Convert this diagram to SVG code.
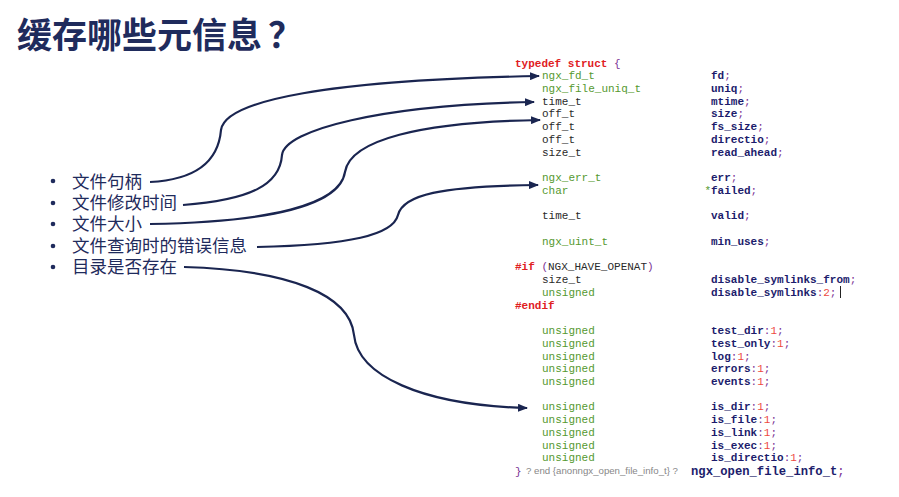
<svg xmlns="http://www.w3.org/2000/svg" width="899" height="497" viewBox="0 0 899 497">
<style>
.title{font-family:"Noto Sans CJK SC","Noto Sans",sans-serif;font-weight:700;font-size:35px;fill:#1f2b5c}
.b{font-family:"Noto Sans CJK SC","Noto Sans",sans-serif;font-size:17.5px;fill:#1f2b5c}
.dot{fill:#1f2b5c}
.c{font-family:"Liberation Mono",monospace;font-size:11px;white-space:pre}
.kw{fill:#e0201f;font-weight:700}
.ty{fill:#55992f}
.pl{fill:#2a2a2a}
.nm{fill:#1c1c6c;font-weight:700}
.pu{fill:#7b3294}
.nu{fill:#ee4a3f}
.gr{font-family:"Liberation Sans",sans-serif;font-size:9px;fill:#888}
.big{font-family:"Liberation Mono",monospace;font-size:12.2px;font-weight:700;fill:#1c1c6c}
.conn{fill:none;stroke:#1a2550;stroke-width:2.2;marker-end:url(#ah)}
</style>
<defs>
<marker id="ah" markerUnits="userSpaceOnUse" markerWidth="10" markerHeight="8" refX="9" refY="4" orient="auto">
<path d="M0,0 L10,4 L0,8 Z" fill="#1a2550"/>
</marker>
</defs>
<rect width="899" height="497" fill="#ffffff"/>
<g id="title"><text class="title" x="17" y="48">缓存哪些元信息<tspan x="268">？</tspan></text></g>
<g id="item-handle"><circle class="dot" cx="53" cy="181" r="2.3"/><text class="b" x="72" y="188">文件句柄</text></g>
<g id="item-mtime"><circle class="dot" cx="53" cy="203" r="2.3"/><text class="b" x="72" y="209">文件修改时间</text></g>
<g id="item-size"><circle class="dot" cx="53" cy="224" r="2.3"/><text class="b" x="72" y="230">文件大小</text></g>
<g id="item-err"><circle class="dot" cx="53" cy="246" r="2.3"/><text class="b" x="72" y="252">文件查询时的错误信息</text></g>
<g id="item-dir"><circle class="dot" cx="53" cy="267" r="2.3"/><text class="b" x="72" y="273">目录是否存在</text></g>
<g id="code">
<text class="c" x="515" y="66.5"><tspan class="kw">typedef struct </tspan><tspan class="pu">{</tspan></text>
<text class="c ty" x="542" y="79.24">ngx_fd_t</text><text class="c" x="711" y="79.24"><tspan class="nm">fd</tspan><tspan class="pu">;</tspan></text>
<text class="c ty" x="542" y="91.98">ngx_file_uniq_t</text><text class="c" x="711" y="91.98"><tspan class="nm">uniq</tspan><tspan class="pu">;</tspan></text>
<text class="c pl" x="542" y="104.72">time_t</text><text class="c" x="711" y="104.72"><tspan class="nm">mtime</tspan><tspan class="pu">;</tspan></text>
<text class="c pl" x="542" y="117.46">off_t</text><text class="c" x="711" y="117.46"><tspan class="nm">size</tspan><tspan class="pu">;</tspan></text>
<text class="c pl" x="542" y="130.2">off_t</text><text class="c" x="711" y="130.2"><tspan class="nm">fs_size</tspan><tspan class="pu">;</tspan></text>
<text class="c pl" x="542" y="142.94">off_t</text><text class="c" x="711" y="142.94"><tspan class="nm">directio</tspan><tspan class="pu">;</tspan></text>
<text class="c pl" x="542" y="155.68">size_t</text><text class="c" x="711" y="155.68"><tspan class="nm">read_ahead</tspan><tspan class="pu">;</tspan></text>
<text class="c ty" x="542" y="181.16">ngx_err_t</text><text class="c" x="711" y="181.16"><tspan class="nm">err</tspan><tspan class="pu">;</tspan></text>
<text class="c ty" x="542" y="193.9">char</text><text class="c" x="704.4" y="193.9"><tspan class="ty">*</tspan><tspan class="nm">failed</tspan><tspan class="pu">;</tspan></text>
<text class="c pl" x="542" y="219.38">time_t</text><text class="c" x="711" y="219.38"><tspan class="nm">valid</tspan><tspan class="pu">;</tspan></text>
<text class="c ty" x="542" y="244.86">ngx_uint_t</text><text class="c" x="711" y="244.86"><tspan class="nm">min_uses</tspan><tspan class="pu">;</tspan></text>
<text class="c" x="515" y="270.34"><tspan class="kw">#if </tspan><tspan class="pu">(</tspan><tspan class="pl">NGX_HAVE_OPENAT</tspan><tspan class="pu">)</tspan></text>
<text class="c pl" x="542" y="283.08">size_t</text><text class="c" x="711" y="283.08"><tspan class="nm">disable_symlinks_from</tspan><tspan class="pu">;</tspan></text>
<text class="c ty" x="542" y="295.82">unsigned</text><text class="c" x="711" y="295.82"><tspan class="nm">disable_symlinks</tspan><tspan class="pu">:</tspan><tspan class="nu">2</tspan><tspan class="pu">;</tspan></text>
<line x1="840.5" y1="286" x2="840.5" y2="298" stroke="#222" stroke-width="1"/>
<text class="c kw" x="515" y="308.56">#endif</text>
<text class="c ty" x="542" y="334.04">unsigned</text><text class="c" x="711" y="334.04"><tspan class="nm">test_dir</tspan><tspan class="pu">:</tspan><tspan class="nu">1</tspan><tspan class="pu">;</tspan></text>
<text class="c ty" x="542" y="346.78">unsigned</text><text class="c" x="711" y="346.78"><tspan class="nm">test_only</tspan><tspan class="pu">:</tspan><tspan class="nu">1</tspan><tspan class="pu">;</tspan></text>
<text class="c ty" x="542" y="359.52">unsigned</text><text class="c" x="711" y="359.52"><tspan class="nm">log</tspan><tspan class="pu">:</tspan><tspan class="nu">1</tspan><tspan class="pu">;</tspan></text>
<text class="c ty" x="542" y="372.26">unsigned</text><text class="c" x="711" y="372.26"><tspan class="nm">errors</tspan><tspan class="pu">:</tspan><tspan class="nu">1</tspan><tspan class="pu">;</tspan></text>
<text class="c ty" x="542" y="385">unsigned</text><text class="c" x="711" y="385"><tspan class="nm">events</tspan><tspan class="pu">:</tspan><tspan class="nu">1</tspan><tspan class="pu">;</tspan></text>
<text class="c ty" x="542" y="410.48">unsigned</text><text class="c" x="711" y="410.48"><tspan class="nm">is_dir</tspan><tspan class="pu">:</tspan><tspan class="nu">1</tspan><tspan class="pu">;</tspan></text>
<text class="c ty" x="542" y="423.22">unsigned</text><text class="c" x="711" y="423.22"><tspan class="nm">is_file</tspan><tspan class="pu">:</tspan><tspan class="nu">1</tspan><tspan class="pu">;</tspan></text>
<text class="c ty" x="542" y="435.96">unsigned</text><text class="c" x="711" y="435.96"><tspan class="nm">is_link</tspan><tspan class="pu">:</tspan><tspan class="nu">1</tspan><tspan class="pu">;</tspan></text>
<text class="c ty" x="542" y="448.7">unsigned</text><text class="c" x="711" y="448.7"><tspan class="nm">is_exec</tspan><tspan class="pu">:</tspan><tspan class="nu">1</tspan><tspan class="pu">;</tspan></text>
<text class="c ty" x="542" y="461.44">unsigned</text><text class="c" x="711" y="461.44"><tspan class="nm">is_directio</tspan><tspan class="pu">:</tspan><tspan class="nu">1</tspan><tspan class="pu">;</tspan></text>
<text class="c pu" x="515" y="475">}</text>
<text class="gr" x="526" y="474" textLength="152" lengthAdjust="spacingAndGlyphs">? end {anonngx_open_file_info_t} ?</text>
<text class="big" x="691" y="475">ngx_open_file_info_t<tspan class="pu" font-weight="400">;</tspan></text>
</g>
<g id="connectors">
<path class="conn" d="M150,182 C190,180 218,165 221,130 C225,100 330,80 539,76"/>
<path class="conn" d="M183,205 C250,200 280,185 282,155 C285,130 380,105 534,102"/>
<path class="conn" d="M150,224 C270,222 340,205 345,172 C350,140 420,122 540,120"/>
<path class="conn" d="M257,247 C350,245 393,235 398,215 C403,195 440,186 538,185"/>
<path class="conn" d="M184,267 C290,270 350,295 354,335 C358,375 420,405 527,408"/>
</g>
</svg>
